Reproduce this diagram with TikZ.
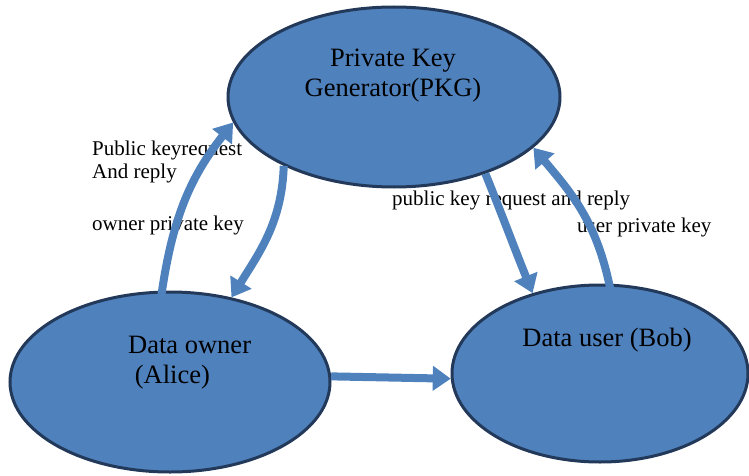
\documentclass[tikz,border=0pt]{standalone}
\usepackage{fontspec}
\setmainfont{Liberation Serif}
\usetikzlibrary{shapes.geometric,arrows.meta}
\definecolor{keyblue}{HTML}{4F81BD}
\definecolor{keyedge}{HTML}{22395A}
\begin{document}
\begin{tikzpicture}[x=1pt,y=1pt,
  party/.style={ellipse,draw=keyedge,line width=3pt,fill=keyblue,inner sep=0pt},
  flow/.style={draw=keyblue,line width=8pt,-{Triangle[width=24pt,length=18pt]}},
  big/.style={font=\fontsize{26.5}{30}\selectfont,inner sep=0pt},
  small/.style={font=\fontsize{21}{23}\selectfont,inner sep=0pt,anchor=base west}]
\useasboundingbox (0,0) rectangle (749,475);
\node[party,minimum width=332pt,minimum height=180pt] (pkg) at (394,378) {};
\node[party,minimum width=320pt,minimum height=180pt] (owner) at (170,93) {};
\node[party,minimum width=296pt,minimum height=177pt] (user) at (600,101.5) {};
\node[big,align=center,anchor=base] (pkgtext) at (393,378) {Private Key\\Generator(PKG)};
\node[big,align=left,anchor=base west] (ownertext) at (128,92) {Data owner\\~(Alice)};
\node[big,anchor=base] (usertext) at (607,129) {Data user (Bob)};
\node[small] (req) at (92,320) {Public keyrequest};
\node[small] (reply) at (92,297) {And reply};
\node[small] (ownerkey) at (92,245) {owner private key};
\node[small] (userreq) at (392,270) {public key request and reply};
\node[small] (userkey) at (577,243) {user private key};
\draw[flow,shorten <=-8pt] (owner.95) to[out=82,in=232] (pkg.189);
\draw[flow] (pkg.212) to[out=268,in=58] (owner.54.5);
\draw[flow] (pkg.320.5) to[out=292,in=112] (user.130);
\draw[flow,shorten <=-15pt] (user.84) to[out=100,in=310] (pkg.340);
\draw[flow] (owner.2) -- (user.182);
\end{tikzpicture}
\end{document}
